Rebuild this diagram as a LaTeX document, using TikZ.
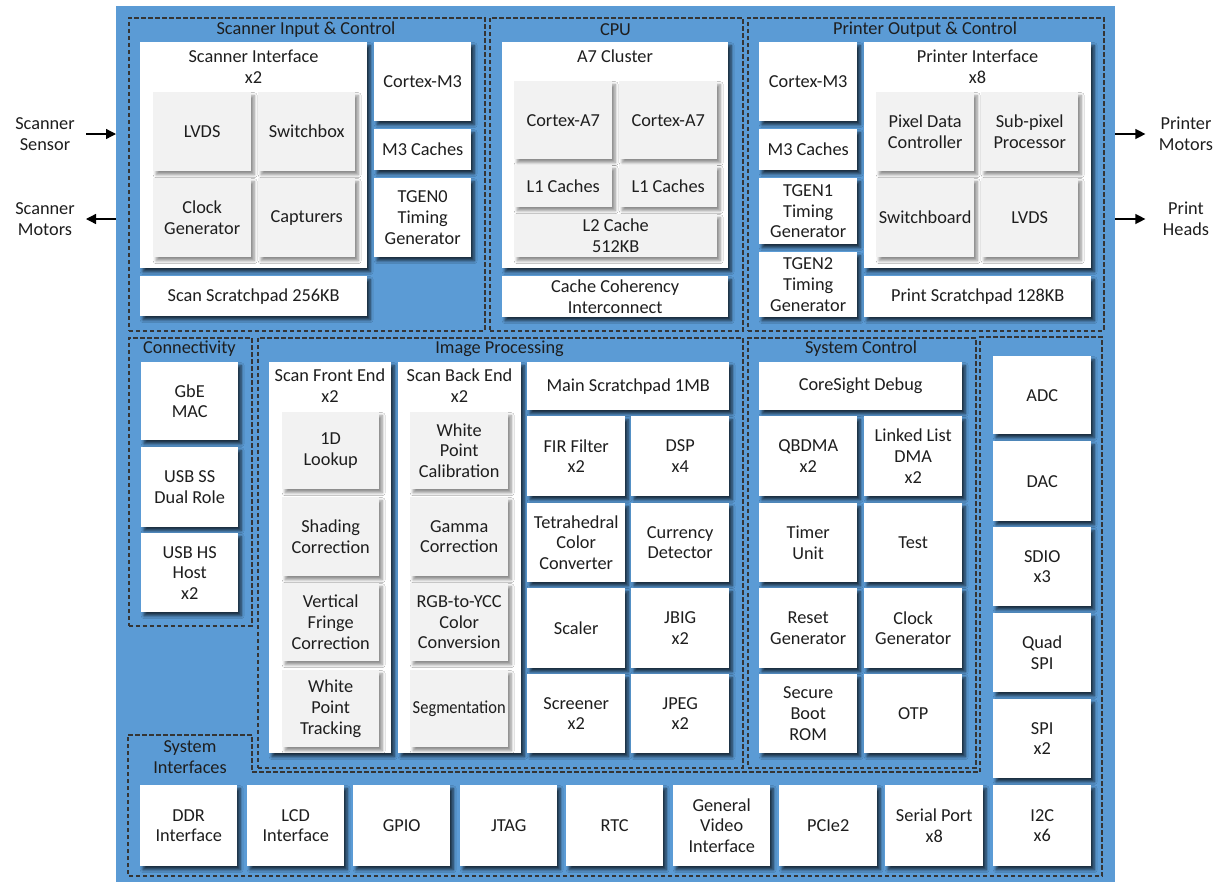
\documentclass[tikz,border=0pt]{standalone}
\usepackage{fontspec}
\usepackage{graphicx}
\setmainfont{Carlito}
\usetikzlibrary{arrows.meta,shadows.blur,calc}
\definecolor{chipblue}{HTML}{5B9BD5}
\definecolor{greybox}{HTML}{F2F2F2}
\definecolor{dashc}{HTML}{353535}
\definecolor{txt}{HTML}{1E1E1E}
% #1 style, #2 name, #3 x1, #4 y1, #5 x2, #6 y2, #7 text
\newcommand{\bx}[7]{%
  \pgfmathsetmacro\bxw{#5-#3}\pgfmathsetmacro\bxh{#6-#4}%
  \node[#1, anchor=north west, minimum width=\bxw pt, minimum height=\bxh pt, inner sep=0pt] (#2) at (#3,#4) {#7};}
\begin{document}
\begin{tikzpicture}[x=1pt,y=-1pt,
  font=\fontsize{18.3}{20.6}\selectfont,
  chipbg/.style={fill=chipblue, draw=none},
  wbox/.style={fill=white, draw=none, align=center, text=txt,
    blur shadow={shadow xshift=3pt, shadow yshift=-3.5pt, shadow blur radius=3pt, shadow blur steps=6, shadow opacity=70}},
  gbox/.style={fill=greybox, draw=none, align=center, text=txt,
    blur shadow={shadow xshift=3pt, shadow yshift=-3.5pt, shadow blur radius=3pt, shadow blur steps=6, shadow opacity=45}},
  region/.style={draw=dashc, dash pattern=on 4.5pt off 2.5pt, line width=1.7pt, fill=none},
  ttl/.style={text=txt, align=center, inner sep=0pt},
  arr/.style={line width=1.3pt, draw=black, -{Triangle[length=10pt,width=10pt]}}]
\useasboundingbox (0,0) rectangle (1229,884);

% chip background
\bx{chipbg}{chip}{116}{6}{1115}{882}{}

% ---------- regions ----------
\bx{region}{rscan}{128}{17}{484}{330}{}
\bx{region}{rcpu}{489}{17}{742}{330}{}
\bx{region}{rprint}{747}{17}{1103}{330}{}
\bx{region}{rconn}{128}{337}{251}{625}{}
\bx{region}{rimg}{257}{337}{742}{767}{}
\bx{region}{rsys}{747}{337}{975}{767}{}
\draw[region] (128,735) -- (252,735) -- (252,772) -- (980,772) -- (980,337)
  -- (1102,337) -- (1102,876) -- (128,876) -- cycle;

\node[ttl] (tscan) at (306,30) {Scanner Input \& Control};
\node[ttl] (tcpu) at (615.5,30) {CPU};
\node[ttl] (tprint) at (925,30) {Printer Output \& Control};
\node[ttl] (tconn) at (189.5,349) {Connectivity};
\node[ttl] (timg) at (499.5,349) {Image Processing};
\node[ttl] (tsys) at (861,349) {System Control};
\node[ttl] (tsif) at (190,757) {System\\Interfaces};

% ---------- Scanner Input & Control ----------
\bx{wbox}{scif}{140}{42}{367}{268}{}
\node[ttl] (tscif) at (253.5,66.5) {Scanner Interface\\x2};
\bx{gbox}{lvdsa}{153}{92}{251}{171}{LVDS}
\bx{gbox}{swbox}{258}{92}{355}{171}{Switchbox}
\bx{gbox}{clkgena}{153}{178}{251}{257}{Clock\\Generator}
\bx{gbox}{capt}{258}{178}{355}{257}{Capturers}
\bx{wbox}{sspad}{140}{276}{367}{316}{Scan Scratchpad 256KB}
\bx{wbox}{m3a}{374}{42}{471}{121}{Cortex-M3}
\bx{wbox}{m3ca}{374}{129}{471}{170}{M3 Caches}
\bx{wbox}{tgen0}{374}{178}{471}{257}{TGEN0\\Timing\\Generator}

% ---------- CPU ----------
\bx{wbox}{a7c}{502}{42}{728}{268}{}
\node[ttl] (ta7c) at (615,56) {A7 Cluster};
\bx{gbox}{ca7a}{514}{81}{612}{159}{Cortex-A7}
\bx{gbox}{ca7b}{619}{81}{717}{159}{Cortex-A7}
\bx{gbox}{l1a}{514}{165}{612}{207}{L1 Caches}
\bx{gbox}{l1b}{619}{165}{717}{207}{L1 Caches}
\bx{gbox}{l2}{514}{214}{717}{257}{L2 Cache\\512KB}
\bx{wbox}{cci}{502}{276}{728}{317}{Cache Coherency\\Interconnect}

% ---------- Printer Output & Control ----------
\bx{wbox}{m3b}{759}{42}{857}{121}{Cortex-M3}
\bx{wbox}{m3cb}{759}{129}{857}{170}{M3 Caches}
\bx{wbox}{tgen1}{759}{178}{857}{244}{TGEN1\\Timing\\Generator}
\bx{wbox}{tgen2}{759}{252}{857}{317}{TGEN2\\Timing\\Generator}
\bx{wbox}{prif}{864}{42}{1091}{268}{}
\node[ttl] (tprif) at (977.5,66.5) {Printer Interface\\x8};
\bx{gbox}{pdc}{876}{92}{974}{171}{Pixel Data\\Controller}
\bx{gbox}{spp}{981}{92}{1078}{171}{Sub-pixel\\Processor}
\bx{gbox}{swbd}{876}{178}{974}{257}{Switchboard}
\bx{gbox}{lvdsb}{981}{178}{1078}{257}{LVDS}
\bx{wbox}{pspad}{864}{276}{1091}{317}{Print Scratchpad 128KB}

% ---------- Connectivity ----------
\bx{wbox}{gbe}{141}{362}{238}{440}{GbE\\MAC}
\bx{wbox}{usbss}{141}{447}{238}{527}{USB SS\\Dual Role}
\bx{wbox}{usbhs}{141}{533}{238}{612}{USB HS\\Host\\x2}

% ---------- Image Processing ----------
\bx{wbox}{sfe}{269}{362}{391}{753}{}
\node[ttl] (tsfe) at (330,385.5) {Scan Front End\\x2};
\bx{gbox}{lkp}{282}{412}{379}{489}{1D\\Lookup}
\bx{gbox}{shc}{282}{497}{379}{576}{Shading\\Correction}
\bx{gbox}{vfc}{282}{583}{379}{661}{Vertical\\Fringe\\Correction}
\bx{gbox}{wpt}{282}{670}{379}{747}{White\\Point\\Tracking}
\bx{wbox}{sbe}{398}{362}{521}{753}{}
\node[ttl] (tsbe) at (459.5,385.5) {Scan Back End\\x2};
\bx{gbox}{wpc}{410}{412}{508}{489}{White\\Point\\Calibration}
\bx{gbox}{gmc}{410}{497}{508}{576}{Gamma\\Correction}
\bx{gbox}{rgb}{410}{583}{508}{661}{RGB-to-YCC\\Color\\Conversion}
\bx{gbox}{seg}{410}{670}{508}{747}{\scalebox{0.9}[1]{Segmentation}}
\bx{wbox}{msp}{527}{362}{729}{410}{Main Scratchpad 1MB}
\bx{wbox}{fir}{527}{416}{625}{496}{FIR Filter\\x2}
\bx{wbox}{dsp}{631}{416}{729}{496}{DSP\\x4}
\bx{wbox}{tcc}{527}{503}{625}{582}{Tetrahedral\\Color\\Converter}
\bx{wbox}{cur}{631}{503}{729}{582}{Currency\\Detector}
\bx{wbox}{scl}{527}{588}{625}{668}{Scaler}
\bx{wbox}{jbig}{631}{588}{729}{668}{JBIG\\x2}
\bx{wbox}{scr}{527}{674}{625}{753}{Screener\\x2}
\bx{wbox}{jpeg}{631}{674}{729}{753}{JPEG\\x2}

% ---------- System Control ----------
\bx{wbox}{csd}{759}{362}{962}{410}{CoreSight Debug}
\bx{wbox}{qbd}{759}{416}{857}{496}{QBDMA\\x2}
\bx{wbox}{lld}{864}{416}{962}{496}{Linked List\\DMA\\x2}
\bx{wbox}{tmr}{759}{503}{857}{582}{Timer\\Unit}
\bx{wbox}{tst}{864}{503}{962}{582}{Test}
\bx{wbox}{rst}{759}{588}{857}{668}{Reset\\Generator}
\bx{wbox}{clkgenb}{864}{588}{962}{668}{Clock\\Generator}
\bx{wbox}{sbr}{759}{674}{857}{753}{Secure\\Boot\\ROM}
\bx{wbox}{otp}{864}{674}{962}{753}{OTP}

% ---------- System Interfaces ----------
\bx{wbox}{adc}{993}{356}{1091}{434}{ADC}
\bx{wbox}{dac}{993}{441}{1091}{521}{DAC}
\bx{wbox}{sdio}{993}{527}{1091}{606}{SDIO\\x3}
\bx{wbox}{qspi}{993}{613}{1091}{692}{Quad\\SPI}
\bx{wbox}{spi}{993}{699}{1091}{778}{SPI\\x2}
\bx{wbox}{ddr}{140}{785}{237}{866}{DDR\\Interface}
\bx{wbox}{lcd}{247}{785}{344}{866}{LCD\\Interface}
\bx{wbox}{gpio}{353}{785}{450}{866}{GPIO}
\bx{wbox}{jtag}{460}{785}{557}{866}{JTAG}
\bx{wbox}{rtc}{566}{785}{663}{866}{RTC}
\bx{wbox}{gvi}{673}{785}{770}{866}{General\\Video\\Interface}
\bx{wbox}{pcie}{779}{785}{877}{866}{PCIe2}
\bx{wbox}{ser}{885}{785}{983}{866}{Serial Port\\x8}
\bx{wbox}{iic}{993}{785}{1091}{866}{I2C\\x6}

% ---------- external signals ----------
\node[ttl] (ssen) at (45,134) {Scanner\\Sensor};
\node[ttl] (smot) at (45,219) {Scanner\\Motors};
\node[ttl] (pmot) at (1186,134) {Printer\\Motors};
\node[ttl] (phd) at (1186,219) {Print\\Heads};
\draw[arr] ($(chip.west |- ssen)+(-30,0)$) -- (chip.west |- ssen);
\draw[arr] (chip.west |- smot) -- ($(chip.west |- smot)+(-30,0)$);
\draw[arr] (chip.east |- pmot) -- ($(chip.east |- pmot)+(30,0)$);
\draw[arr] (chip.east |- phd) -- ($(chip.east |- phd)+(30,0)$);
\end{tikzpicture}
\end{document}
